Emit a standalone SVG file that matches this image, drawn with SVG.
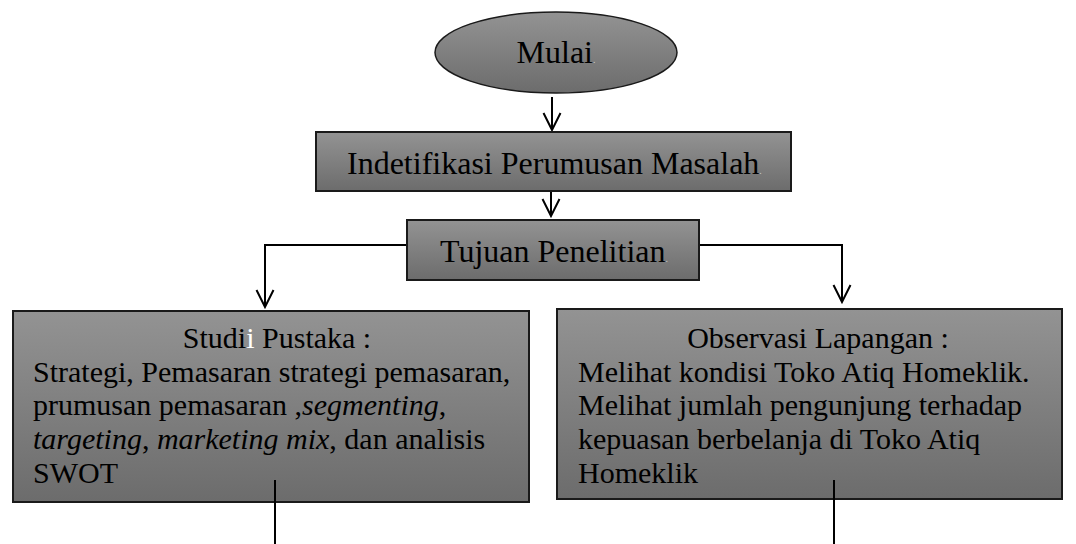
<svg xmlns="http://www.w3.org/2000/svg" width="1076" height="544" viewBox="0 0 1076 544">
<defs>
<linearGradient id="g" x1="0" y1="0" x2="0" y2="1">
<stop offset="0" stop-color="#939393"/>
<stop offset="1" stop-color="#6c6c6c"/>
</linearGradient>
<marker id="ah" markerWidth="20" markerHeight="20" refX="18" refY="9.5" orient="auto" markerUnits="userSpaceOnUse" viewBox="0 0 20 20">
<path d="M1,1 L18,9.5 L1,18" fill="none" stroke="#000" stroke-width="2"/>
</marker>
<style>
.box{fill:url(#g);stroke:#1a1a1a;stroke-width:2}
.t{font-family:"Liberation Serif","Times New Roman",serif;fill:#000}
.big{font-size:32px}
.sm{font-size:30px}
.ln{stroke:#000;stroke-width:2;fill:none}
.dot{fill:#c8c8c8}
</style>
</defs>
<rect width="1076" height="544" fill="#fff"/>
<g id="connectors">
<line class="ln" x1="552" y1="97" x2="552" y2="130" marker-end="url(#ah)"/>
<line class="ln" x1="551" y1="191" x2="551" y2="216" marker-end="url(#ah)"/>
<polyline class="ln" points="407,245 265,245 265,307" marker-end="url(#ah)"/>
<polyline class="ln" points="699,245 842,245 842,302" marker-end="url(#ah)"/>
</g>
<g id="mulai">
<ellipse cx="556" cy="52.5" rx="121" ry="40.5" fill="url(#g)" stroke="#1a1a1a" stroke-width="1.5"/>
<text class="t big" x="556" y="63" text-anchor="middle">Mulai<tspan class="dot" font-size="10">.</tspan></text>
</g>
<g id="identifikasi">
<rect class="box" x="316" y="132" width="475" height="59"/>
<text class="t big" x="347" y="174">Indetifikasi Perumusan Masalah<tspan class="dot" font-size="10">.</tspan></text>
</g>
<g id="tujuan">
<rect class="box" x="407" y="220" width="292" height="60"/>
<text class="t big" x="440" y="262">Tujuan Penelitian<tspan class="dot" font-size="10">.</tspan></text>
</g>
<g id="studi">
<rect class="box" x="13" y="311" width="516" height="191"/>
<text class="t sm" x="277" y="348" text-anchor="middle">Studi<tspan fill="#fff">i</tspan> Pustaka :</text>
<text class="t sm" x="33" y="382">Strategi, Pemasaran strategi pemasaran,</text>
<text class="t sm" x="33" y="415">prumusan pemasaran ,<tspan font-style="italic">segmenting</tspan>,</text>
<text class="t sm" x="33" y="449"><tspan font-style="italic">targeting</tspan>, <tspan font-style="italic">marketing mix</tspan>, dan analisis</text>
<text class="t sm" x="33" y="483">SWOT</text>
</g>
<g id="observasi">
<rect class="box" x="557" y="309" width="505" height="190"/>
<text class="t sm" x="818" y="348" text-anchor="middle">Observasi Lapangan :</text>
<text class="t sm" x="578" y="382">Melihat kondisi Toko Atiq Homeklik.</text>
<text class="t sm" x="578" y="415">Melihat jumlah pengunjung terhadap</text>
<text class="t sm" x="578" y="449">kepuasan berbelanja di Toko Atiq</text>
<text class="t sm" x="578" y="483">Homeklik</text>
</g>
<g id="exit-lines">
<line class="ln" x1="275" y1="480" x2="275" y2="544" stroke-width="1.5"/>
<line class="ln" x1="834" y1="480" x2="834" y2="544" stroke-width="1.5"/>
</g>
</svg>
